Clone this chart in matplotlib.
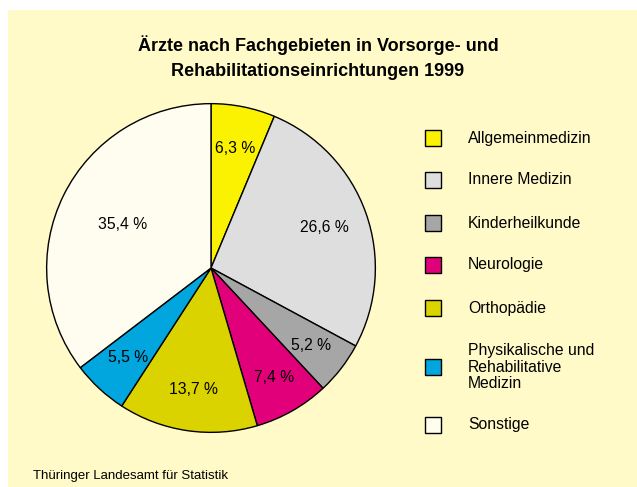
import numpy as np
import matplotlib.pyplot as plt
from matplotlib.patches import Rectangle

plt.rcParams['font.family'] = ['Liberation Sans', 'DejaVu Sans']

# Daten
kategorien = ["Allgemeinmedizin", "Innere Medizin", "Kinderheilkunde", "Neurologie",
              "Orthopädie", "Physikalische und\nRehabilitative\nMedizin", "Sonstige"]
anteile = [6.3, 26.6, 5.2, 7.4, 13.7, 5.5, 35.4]
beschriftung = ["6,3 %", "26,6 %", "5,2 %", "7,4 %", "13,7 %", "5,5 %", "35,4 %"]
farben = ["#FAF200", "#DEDEDE", "#A6A6A6", "#E2007A", "#DAD300", "#00A6DD", "#FFFDF0"]
label_abstand = [0.74, 0.73, 0.77, 0.77, 0.75, 0.74, 0.60]

W, H = 637, 487
fig = plt.figure(figsize=(W / 100, H / 100), dpi=100)
fig.patch.set_facecolor("white")

# Hintergrund / Overlay in Pixelkoordinaten
bg = fig.add_axes([0, 0, 1, 1])
bg.set_xlim(0, W)
bg.set_ylim(H, 0)
bg.axis("off")
bg.add_patch(Rectangle((8, 10), W - 8, H - 10, facecolor="#FFFAC8", edgecolor="none"))

bg.text(318, 45, "Ärzte nach Fachgebieten in Vorsorge- und", ha="center", va="center",
        fontsize=13, fontweight="bold")
bg.text(318, 72, "Rehabilitationseinrichtungen 1999", ha="center", va="center",
        fontsize=13, fontweight="bold")
bg.text(33, 476, "Thüringer Landesamt für Statistik", ha="left", va="center", fontsize=9.5)

# Legende
leg_y = [138, 180, 223, 265, 308, 367, 425]
for name, farbe, y in zip(kategorien, farben, leg_y):
    bg.add_patch(Rectangle((425, y - 8), 16, 16, facecolor=farbe, edgecolor="black", lw=1))
    bg.text(468, y, name, ha="left", va="center", fontsize=11.3, linespacing=1.1)

# Kreisdiagramm
cx, cy, r = 211, 268, 166
ax = fig.add_axes([(cx - r) / W, (H - cy - r) / H, 2 * r / W, 2 * r / H])
wedges, _ = ax.pie(anteile, colors=farben, startangle=90, counterclock=False,
                   wedgeprops=dict(edgecolor="black", linewidth=1))
ax.set_xlim(-1.01, 1.01)
ax.set_ylim(-1.01, 1.01)
for w, txt, d in zip(wedges, beschriftung, label_abstand):
    ang = np.deg2rad((w.theta1 + w.theta2) / 2)
    ax.text(d * np.cos(ang), d * np.sin(ang), txt, ha="center", va="center", fontsize=11.3)

fig.savefig("out.png", dpi=100)
